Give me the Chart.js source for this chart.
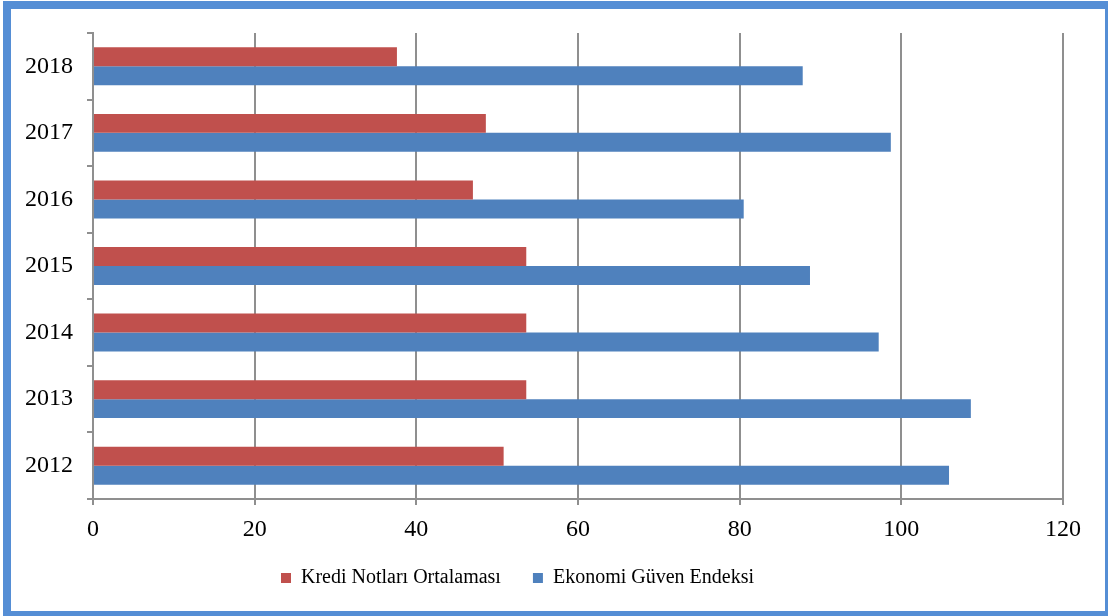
<!DOCTYPE html>
<html>
<head>
<meta charset="utf-8">
<script src="https://cdn.jsdelivr.net/npm/chart.js@4/dist/chart.umd.min.js"></script>
<style>
html,body{margin:0;padding:0;background:#fff;}
#wrap{width:1108px;height:616px;position:relative;}
</style>
</head>
<body>
<div id="wrap"><canvas id="c"></canvas></div>
<script>
// Data
const years = ['2012', '2013', '2014', '2015', '2016', '2017', '2018'];
const krediNotlari = [50.8, 53.6, 53.6, 53.6, 47.0, 48.6, 37.6];
const ekonomiGuven = [105.9, 108.6, 97.2, 88.7, 80.5, 98.7, 87.8];
const seriesNames = ['Kredi Notları Ortalaması', 'Ekonomi Güven Endeksi'];
const xMin = 0, xMax = 120, xStep = 20;

const FONT = "'Liberation Serif', 'Times New Roman', serif";
const GRID = '#8f8f8f';

const framePlugin = {
  id: 'frame',
  afterDraw(chart) {
    const ctx = chart.ctx, w = chart.width, h = chart.height;
    ctx.save();
    ctx.fillStyle = '#558ED5';
    ctx.fillRect(3, 1, 8, h - 1);       // left
    ctx.fillRect(3, 1, w - 3, 8);       // top
    ctx.fillRect(w - 3, 1, 3, h - 1);   // right
    ctx.fillRect(3, h - 5, w - 3, 5);   // bottom
    ctx.restore();
  }
};

const legendShift = {
  id: 'legendShift',
  afterLayout(chart) {
    const lg = chart.legend;
    if (lg) { lg.left -= 14; lg.right -= 14; }
  }
};

new Chart(document.getElementById('c'), {
  type: 'bar',
  data: {
    labels: years,
    datasets: [
      { label: seriesNames[0], data: krediNotlari, backgroundColor: '#C0504D', borderWidth: 0 },
      { label: seriesNames[1], data: ekonomiGuven, backgroundColor: '#4F81BD', borderWidth: 0 }
    ]
  },
  options: {
    indexAxis: 'y',
    responsive: true,
    maintainAspectRatio: false,
    animation: false,
    categoryPercentage: 0.57,
    barPercentage: 1.0,
    layout: { padding: { top: 33, right: 45, bottom: 18, left: 0 } },
    plugins: {
      tooltip: { enabled: false },
      legend: {
        position: 'bottom',
        labels: {
          boxWidth: 10, boxHeight: 10, padding: 32, color: '#000',
          font: { family: FONT, size: 20 }
        }
      }
    },
    scales: {
      y: {
        reverse: true,
        grid: { drawOnChartArea: false, drawTicks: true, tickLength: 6, color: GRID, lineWidth: 2, offset: true },
        border: { display: true, color: GRID, width: 2 },
        ticks: { color: '#000', font: { family: FONT, size: 24 }, padding: 14 },
        afterFit(s) { s.width = 93; }
      },
      x: {
        min: xMin, max: xMax,
        ticks: { stepSize: xStep, color: '#000', font: { family: FONT, size: 24 }, padding: 10 },
        grid: { color: GRID, lineWidth: 2, tickLength: 6, drawTicks: true },
        border: { display: true, color: GRID, width: 2 },
        afterFit(s) { s.height = 37; }
      }
    }
  },
  plugins: [framePlugin, legendShift]
});
</script>
</body>
</html>
